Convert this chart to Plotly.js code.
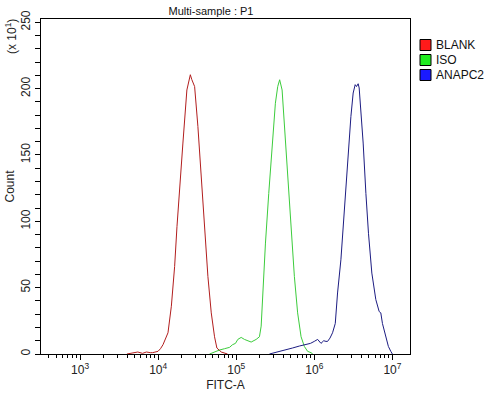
<!DOCTYPE html>
<html>
<head>
<meta charset="utf-8">
<script src="https://cdn.plot.ly/plotly-3.0.1.min.js"></script>
<style>html,body{margin:0;padding:0;background:#fff}#chart{width:494px;height:393px}</style>
</head>
<body>
<div id="chart"></div>
<script>
// ---- data (x given as log10 of FITC-A intensity) ----
const seriesNames = ['BLANK', 'ISO', 'ANAPC2'];
const lineColors = ['#b21e1e', '#3ccc3c', '#1c1c82'];
const legendColors = ['#ff1a1a', '#22ee22', '#1a1aff'];

const blankExp = [3.60, 3.675, 3.739, 3.80, 3.850, 3.90, 3.930, 3.998, 4.030, 4.062, 4.095, 4.126, 4.169, 4.211, 4.241, 4.275, 4.317, 4.368, 4.395, 4.412, 4.430, 4.467, 4.509, 4.552, 4.595, 4.637, 4.680, 4.722, 4.752, 4.808, 4.888];
const blankCount = [0, 1, 1.5, 0.5, 1.5, 1, 1, 2, 4, 7, 11, 16, 36, 66, 96, 121.5, 159, 199, 208, 210.5, 207, 201.6, 171.5, 134, 96, 58.5, 31, 13, 4.5, 1.5, 0];

const isoExp = [4.658, 4.72, 4.786, 4.85, 4.914, 4.952, 4.99, 5.020, 5.063, 5.105, 5.15, 5.191, 5.255, 5.297, 5.319, 5.339, 5.374, 5.416, 5.459, 5.501, 5.531, 5.556, 5.587, 5.616, 5.658, 5.702, 5.744, 5.786, 5.830, 5.872, 5.914, 5.957, 5.98];
const isoCount = [0, 1.5, 3, 4, 5, 7, 8, 11, 12.5, 11, 10, 9, 11, 13, 21, 46, 83.6, 121, 159, 189, 201.6, 206.7, 199, 171.5, 134, 96, 58.5, 31, 13, 5.7, 2, 1, 0];

const anapcExp = [5.425, 5.50, 5.638, 5.72, 5.808, 5.893, 5.95, 5.999, 6.042, 6.085, 6.12, 6.149, 6.169, 6.20, 6.233, 6.268, 6.297, 6.340, 6.382, 6.425, 6.468, 6.497, 6.523, 6.540, 6.561, 6.574, 6.596, 6.625, 6.660, 6.693, 6.736, 6.787, 6.830, 6.851, 6.872, 6.915, 6.948, 6.979, 6.999];
const anapcCount = [0, 1, 3, 4.5, 6, 7, 8, 9.5, 11, 8, 10, 9.5, 9.5, 12, 16, 23, 46, 71, 109, 146, 179, 196.7, 203, 201.6, 203.7, 200.5, 184, 159, 121, 91, 61, 41, 32, 31, 23, 13, 5.7, 2, 0];

const xTickVals = [1e3, 1e4, 1e5, 1e6, 1e7];
const xTickText = ['10<sup>3</sup>', '10<sup>4</sup>', '10<sup>5</sup>', '10<sup>6</sup>', '10<sup>7</sup>'];
const yTickVals = [0, 50, 100, 150, 200, 250];

// ---- geometry helpers (pixel layout of the reference) ----
const W = 494, H = 393, L = 41, R = 410, T = 19, B = 354;
const px = v => (v - L) / (R - L);
const py = v => (B - v) / (B - T);

const xs = [blankExp, isoExp, anapcExp].map(a => a.map(e => Math.pow(10, e)));
const ys = [blankCount, isoCount, anapcCount];

const traces = seriesNames.map((n, i) => ({
  type: 'scatter', mode: 'lines', name: n,
  x: xs[i], y: ys[i],
  line: {color: lineColors[i], width: 1},
  showlegend: false, hoverinfo: 'skip'
}));

const minorX = [];
for (let d = 2; d <= 7; d++) for (let m = 2; m <= 9; m++) {
  const v = m * Math.pow(10, d);
  if (Math.log10(v) > 2.5 && Math.log10(v) < 7.2247) minorX.push(v);
}

const font = {family: 'Liberation Sans, Arial, sans-serif', size: 12, color: '#222'};

const shapes = [], annotations = [];
const rowY = [45, 60, 75];
seriesNames.forEach((n, i) => {
  shapes.push({type: 'rect', xref: 'paper', yref: 'paper',
    x0: px(420), x1: px(431), y0: py(rowY[i] + 5.5), y1: py(rowY[i] - 5.5),
    fillcolor: legendColors[i], line: {color: '#000', width: 1}});
  annotations.push({xref: 'paper', yref: 'paper', x: px(434), y: py(rowY[i]),
    xanchor: 'left', yanchor: 'middle', showarrow: false, text: n,
    font: {family: font.family, size: 12, color: '#111'}});
});
annotations.push({xref: 'paper', yref: 'paper', x: px(11), y: py(37), textangle: -90,
  xanchor: 'center', yanchor: 'middle', showarrow: false, text: '(x 10<sup>1</sup>)',
  font: {family: font.family, size: 12, color: '#222'}});

const layout = {
  width: W, height: H,
  margin: {l: L, r: W - R, t: T, b: H - B, pad: 0},
  paper_bgcolor: '#fff', plot_bgcolor: '#fff',
  font: font,
  showlegend: false,
  title: {text: 'Multi-sample : P1', x: 211 / W, xanchor: 'center', xref: 'container',
    y: 1 - 11 / H, yanchor: 'middle', yref: 'container', font: {family: font.family, size: 11, color: '#111'}},
  xaxis: {
    type: 'log', range: [2.5, 7.2247], autorange: false,
    tickmode: 'array', tickvals: xTickVals, ticktext: xTickText,
    ticks: 'outside', ticklen: 5, tickwidth: 1, tickcolor: '#000',
    minor: {tickmode: 'array', tickvals: minorX, ticks: 'outside', ticklen: 3, tickwidth: 1, tickcolor: '#000', showgrid: false},
    showline: true, linecolor: '#000', linewidth: 1, mirror: true,
    showgrid: false, zeroline: false,
    tickfont: {family: font.family, size: 12, color: '#222'},
    title: {text: 'FITC-A', standoff: 4, font: {family: font.family, size: 12, color: '#222'}},
    automargin: false
  },
  yaxis: {
    range: [0, 252.5], autorange: false,
    tickmode: 'array', tickvals: yTickVals, tickangle: -90,
    ticks: 'outside', ticklen: 5, tickwidth: 1, tickcolor: '#000',
    minor: {dtick: 10, tick0: 0, ticks: 'outside', ticklen: 5, tickwidth: 1, tickcolor: '#000', showgrid: false},
    showline: true, linecolor: '#000', linewidth: 1, mirror: true,
    showgrid: false, zeroline: false,
    tickfont: {family: font.family, size: 12, color: '#222'},
    title: {text: 'Count', standoff: 2, font: {family: font.family, size: 12, color: '#222'}},
    automargin: false
  },
  shapes: shapes,
  annotations: annotations
};

Plotly.newPlot('chart', traces, layout, {displayModeBar: false});
</script>
</body>
</html>
